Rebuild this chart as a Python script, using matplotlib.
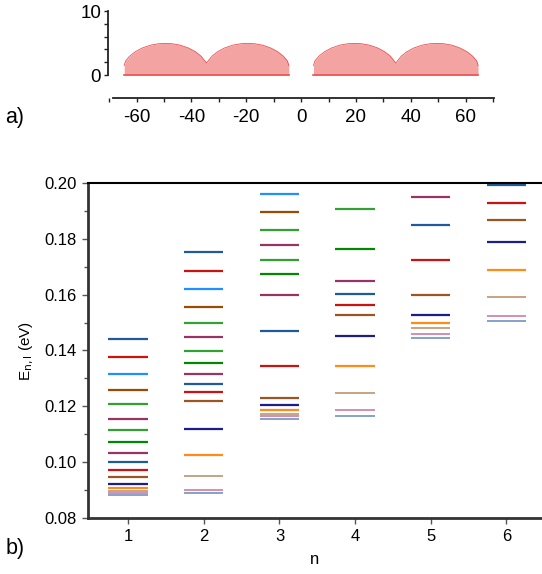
import matplotlib
matplotlib.use("Agg")
import matplotlib.pyplot as plt
from matplotlib.ticker import MultipleLocator
import numpy as np

plt.rcParams["font.family"] = ["Liberation Sans", "DejaVu Sans"]
plt.rcParams["axes.unicode_minus"] = False

# panel a) profile, right half (left half is its mirror image)
x_right = [4.5, 5.0, 6.5, 8.5, 11, 14, 17, 19.5, 22, 25, 28, 30.5, 32.5, 34.5,
           36.5, 38.5, 41, 44, 47, 49.5, 52, 55, 58, 60.5, 62.5, 64, 64.5]
h_right = [1.5, 2.2, 2.95, 3.63, 4.21, 4.66, 4.89, 4.95, 4.89, 4.66, 4.21, 3.63, 2.95, 1.88,
           2.95, 3.63, 4.21, 4.66, 4.89, 4.95, 4.89, 4.66, 4.21, 3.63, 2.95, 2.2, 1.5]
x_left = [-v for v in x_right[::-1]]
h_left = h_right[::-1]
a_ticks = [-60, -40, -20, 0, 20, 40, 60]

# panel b) energy levels (eV), listed from lowest l upwards
n_values = [1, 2, 3, 4, 5, 6]
E_n1 = [0.0881, 0.0890, 0.0897, 0.0909, 0.0923, 0.0946, 0.0971, 0.1000, 0.1033,
        0.1071, 0.1114, 0.1156, 0.1210, 0.1260, 0.1317, 0.1378, 0.1442]
E_n2 = [0.0889, 0.0902, 0.0951, 0.1027, 0.1120, 0.1220, 0.1250, 0.1280, 0.1316,
        0.1356, 0.1399, 0.1449, 0.1500, 0.1557, 0.1619, 0.1685, 0.1752]
E_n3 = [0.1155, 0.1164, 0.1172, 0.1186, 0.1204, 0.1231, 0.1346, 0.1471, 0.1600,
        0.1675, 0.1725, 0.1779, 0.1833, 0.1895, 0.1961]
E_n4 = [0.1167, 0.1187, 0.1249, 0.1345, 0.1451, 0.1526, 0.1563, 0.1602, 0.1649,
        0.1763, 0.1906]
E_n5 = [0.1444, 0.1458, 0.1480, 0.1500, 0.1526, 0.1599, 0.1725, 0.1850, 0.1950]
E_n6 = [0.1506, 0.1525, 0.1591, 0.1689, 0.1790, 0.1869, 0.1928, 0.1994]
levels = [E_n1, E_n2, E_n3, E_n4, E_n5, E_n6]

l_colors = ["#6489b8", "#c8709e", "#b88a62", "#ff8c1a", "#1c1c8a", "#9a5522",
            "#cc1111", "#1f5a9a", "#993366", "#008800", "#33a033", "#993366",
            "#33a033", "#994c00", "#1e90ff", "#cc1111", "#1f5a9a"]

fig = plt.figure(figsize=(5.42, 5.74), dpi=100)

# ---- a) ----
axa = fig.add_axes([0.1993, 0.8693, 0.7121, 0.1115])
fill_c, edge_c = "#f4a3a3", "#e85050"
for xs, hs in ((x_left, h_left), (x_right, h_right)):
    axa.fill_between(xs, 0, hs, color=fill_c, lw=0, clip_on=False)
    axa.plot(xs, hs, color=edge_c, lw=0.6, clip_on=False)
    axa.plot([xs[0], xs[-1]], [0, 0], color=edge_c, lw=1.2, clip_on=False)
axa.set_xlim(-70.4, 70.3)
axa.set_ylim(0, 10)
for s in ("top", "right"):
    axa.spines[s].set_visible(False)
axa.spines["left"].set_bounds(0, 10)
axa.spines["bottom"].set_position(("outward", 16.5))
axa.spines["bottom"].set_bounds(-68.6, 70.3)
for s in ("left", "bottom"):
    axa.spines[s].set_linewidth(1.3)
    axa.spines[s].set_color("#222222")
axa.set_yticks([0, 10])
axa.yaxis.set_minor_locator(MultipleLocator(2))
axa.set_xticks(a_ticks)
axa.xaxis.set_minor_locator(MultipleLocator(10))
axa.tick_params(axis="both", which="major", labelsize=13.5, length=3, width=1, color="#222222", pad=2)
axa.tick_params(axis="x", which="major", pad=5)
axa.tick_params(axis="both", which="minor", length=3, width=1, color="#222222")
fig.text(0.01, 0.795, "a)", fontsize=15.5, va="center")

# ---- b) ----
axb = fig.add_axes([0.1624, 0.0976, 0.8376, 0.5836])
for n, Es in zip(n_values, levels):
    for l, E in enumerate(Es):
        lw = 1.1 if l < 3 else 1.6
        axb.hlines(E, n - 0.26, n + 0.26, colors=l_colors[l], lw=lw)
axb.set_xlim(0.47, 6.47)
axb.set_ylim(0.08, 0.20)
axb.set_xticks(n_values)
axb.set_yticks(np.arange(0.08, 0.201, 0.02))
axb.yaxis.set_minor_locator(MultipleLocator(0.01))
axb.yaxis.set_major_formatter(plt.FormatStrFormatter("%.2f"))
axb.spines["right"].set_visible(False)
axb.spines["top"].set_linewidth(1.5)
axb.spines["top"].set_color("black")
for s in ("left", "bottom"):
    axb.spines[s].set_linewidth(2)
    axb.spines[s].set_color("#333333")
axb.tick_params(axis="both", which="major", labelsize=12, length=4, width=1, color="#555555", pad=4)
axb.tick_params(axis="y", which="minor", length=3, width=1, color="#555555")
axb.set_xlabel("n", fontsize=12, labelpad=6)
axb.set_ylabel(r"E$_{\mathrm{n,l}}$ (eV)", fontsize=11, labelpad=6)
fig.text(0.01, 0.045, "b)", fontsize=15.5, va="center")

fig.savefig("out.png", dpi=100)
